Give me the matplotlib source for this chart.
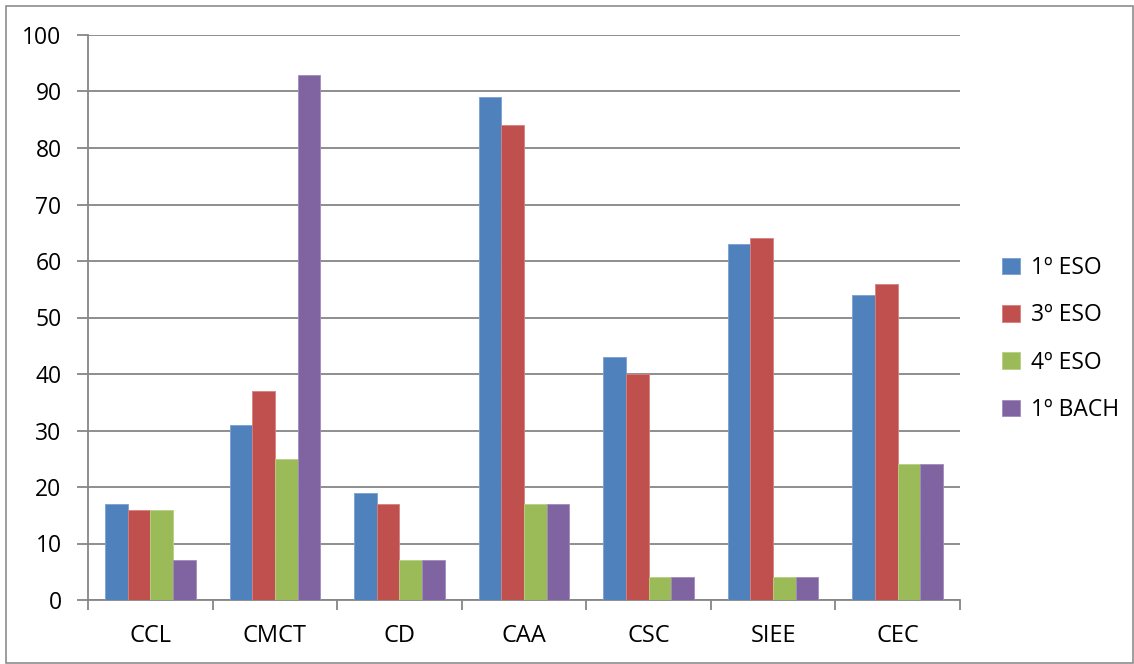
import numpy as np
import matplotlib
matplotlib.use("Agg")
import matplotlib.pyplot as plt
from matplotlib.patches import Rectangle

plt.rcParams['font.family'] = ['Open Sans', 'DejaVu Sans']

categories = ["CCL", "CMCT", "CD", "CAA", "CSC", "SIEE", "CEC"]
series_names = ["1º ESO", "3º ESO", "4º ESO", "1º BACH"]
eso1 = [17, 31, 19, 89, 43, 63, 54]
eso3 = [16, 37, 17, 84, 40, 64, 56]
eso4 = [16, 25, 7, 17, 4, 4, 24]
bach1 = [7, 93, 7, 17, 4, 4, 24]
colors = ["#4F81BD", "#C0504D", "#9BBB59", "#8064A2"]
edge_colors = ["#7A9FD0", "#D6807E", "#B8D084", "#A08BBE"]

W, H = 1134, 664
fig = plt.figure(figsize=(W / 100, H / 100), dpi=100)
ax = fig.add_axes([88 / W, 1 - 600 / H, (960 - 88) / W, (600 - 35) / H])

# outer chart border
fig.patches.append(Rectangle((6 / W, 1 / H), (W - 7) / W, (H - 7) / H,
                             transform=fig.transFigure, fill=False,
                             edgecolor="#8C8C8C", linewidth=1.2))

x = np.arange(len(categories))
bw = 1 / 5.5
all_series = [eso1, eso3, eso4, bach1]
for i, vals in enumerate(all_series):
    offs = (i - 1.5) * bw
    ax.bar(x + offs, vals, width=bw, color=colors[i], edgecolor=edge_colors[i],
           linewidth=0.6, label=series_names[i], zorder=3)

ax.set_xlim(-0.5, len(categories) - 0.5)
ax.set_ylim(0, 100)
ax.set_yticks(range(0, 101, 10))
ax.yaxis.grid(True, color="#868686", linewidth=1.3, zorder=0)
ax.set_axisbelow(True)

ax.set_xticks(x)
ax.set_xticklabels(categories)
ax.set_xticks(np.arange(-0.5, len(categories)), minor=True)
ax.tick_params(axis="x", which="major", length=0, pad=17, labelsize=17)
ax.tick_params(axis="x", which="minor", length=7, width=1.3, color="#868686", direction="out")
ax.tick_params(axis="y", length=8, width=1.3, color="#868686", pad=11, labelsize=16.5)

for s in ["top", "right"]:
    ax.spines[s].set_visible(False)
for s in ["left", "bottom"]:
    ax.spines[s].set_color("#868686")
    ax.spines[s].set_linewidth(1.3)

ax.legend(loc="center left", bbox_to_anchor=(1.025, 0.462), frameon=False,
          fontsize=16.5, handlelength=0.75, handleheight=0.75, handletextpad=0.5,
          labelspacing=1.02)

fig.savefig("out.png", dpi=100)
